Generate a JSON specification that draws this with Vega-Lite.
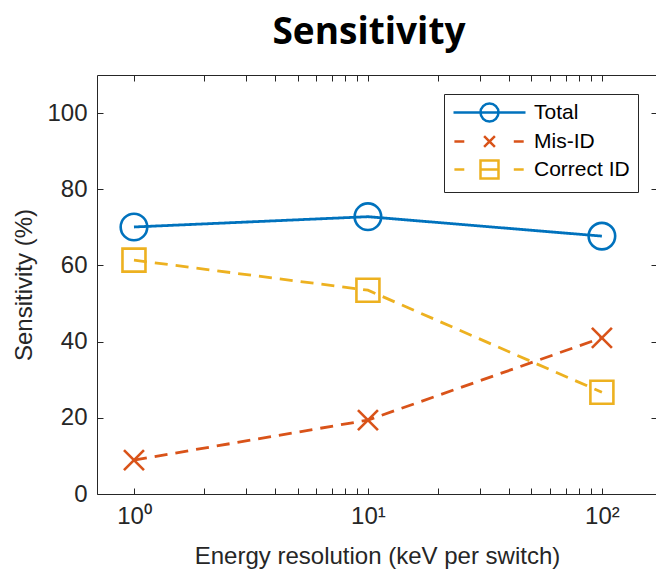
{
  "$schema": "https://vega.github.io/schema/vega-lite/v6.json",
  "autosize": {"type": "none"},
  "width": 560,
  "height": 419,
  "padding": {"left": 97, "top": 75, "right": 0, "bottom": 83},
  "background": "white",
  "title": {"text": "Sensitivity", "font": "Open Sans", "fontSize": 37, "fontWeight": "bold", "color": "black", "anchor": "middle", "offset": 23, "dx": -8},
  "config": {
    "view": {"stroke": null},
    "axis": {"grid": false, "domainColor": "#262626", "domainWidth": 1, "tickColor": "#262626", "tickWidth": 1, "tickSize": -6,
      "labelFont": "Liberation Sans", "labelFontSize": 24, "labelColor": "#262626",
      "titleFont": "Liberation Sans", "titleFontSize": 24, "titleFontWeight": "normal", "titleColor": "#262626"}
  },
  "data": {"values": [
    {"x": 1, "y": 70.1, "series": "Total"},
    {"x": 10, "y": 72.8, "series": "Total"},
    {"x": 100, "y": 67.7, "series": "Total"},
    {"x": 1, "y": 8.9, "series": "Mis-ID"},
    {"x": 10, "y": 19.4, "series": "Mis-ID"},
    {"x": 100, "y": 41.0, "series": "Mis-ID"},
    {"x": 1, "y": 61.4, "series": "Correct ID"},
    {"x": 10, "y": 53.5, "series": "Correct ID"},
    {"x": 100, "y": 26.7, "series": "Correct ID"}
  ]},
  "resolve": {"axis": {"x": "independent", "y": "independent"}},
  "layer": [
    {
      "mark": {"type": "line", "strokeWidth": 2.8},
      "encoding": {
        "x": {"field": "x", "type": "quantitative",
          "scale": {"type": "log", "domain": [0.695, 172], "nice": false, "zero": false},
          "axis": {"orient": "bottom", "title": "Energy resolution (keV per switch)", "titlePadding": 16, "labelPadding": 16,
            "values": [1,2,3,4,5,6,7,8,9,10,20,30,40,50,60,70,80,90,100],
            "labelExpr": "datum.value == 1 ? '10⁰' : datum.value == 10 ? '10¹' : datum.value == 100 ? '10²' : ''",
            "labelOverlap": false,
            "encode": {"ticks": {"update": {"y2": {"signal": "(datum.value == 1 || datum.value == 10 || datum.value == 100) ? -6 : -3.5"}}}}}},
        "y": {"field": "y", "type": "quantitative",
          "scale": {"domain": [0, 110], "nice": false},
          "axis": {"orient": "left", "title": "Sensitivity (%)", "titlePadding": 10, "labelPadding": 16,
            "values": [0, 20, 40, 60, 80, 100]}},
        "color": {"field": "series", "type": "nominal",
          "scale": {"domain": ["Total", "Mis-ID", "Correct ID"], "range": ["#0072BD", "#D95319", "#EDB120"]},
          "legend": {"orient": "top-right", "offset": 19, "title": null, "padding": 8,
            "strokeColor": "#262626", "fillColor": "white", "cornerRadius": 0,
            "labelFont": "Liberation Sans", "labelFontSize": 21, "labelColor": "black",
            "symbolSize": 324, "symbolStrokeWidth": 2.5, "symbolOffset": 27, "labelOffset": 34, "rowPadding": 3,
            "encode": {"symbols": {"update": {
              "shape": {"signal": "datum.value === 'Total' ? 'M-4,0L4,0M1,0A1,1,0,1,1,-1,0A1,1,0,1,1,1,0Z' : datum.value === 'Mis-ID' ? 'M-3.9,0L-2.8,0M2.7,0L3.8,0M-0.6,-0.6L0.6,0.6M-0.6,0.6L0.6,-0.6' : 'M-3.9,0L-2.8,0M2.7,0L3.8,0M-1,-1L1,-1L1,1L-1,1ZM-1,0L1,0'"},
              "fill": {"value": "transparent"},
              "strokeDash": {"value": []},
              "strokeWidth": {"value": 2.5}}}}}},
        "strokeDash": {"condition": {"test": "datum.series === 'Total'", "value": [1, 0]}, "value": [13, 8]}
      }
    },
    {
      "mark": {"type": "point", "filled": false, "strokeWidth": 2.6, "opacity": 1},
      "encoding": {
        "x": {"field": "x", "type": "quantitative",
          "scale": {"type": "log", "domain": [0.695, 172], "nice": false, "zero": false},
          "axis": {"orient": "top", "title": null, "labels": false,
            "values": [1,2,3,4,5,6,7,8,9,10,20,30,40,50,60,70,80,90,100],
            "encode": {"ticks": {"update": {"y2": {"signal": "(datum.value == 1 || datum.value == 10 || datum.value == 100) ? 6 : 3.5"}}}}}},
        "y": {"field": "y", "type": "quantitative",
          "scale": {"domain": [0, 110], "nice": false},
          "axis": {"orient": "right", "title": null, "labels": false,
            "values": [0, 20, 40, 60, 80, 100]}},
        "color": {"field": "series", "type": "nominal",
          "scale": {"domain": ["Total", "Mis-ID", "Correct ID"], "range": ["#0072BD", "#D95319", "#EDB120"]}},
        "shape": {"condition": [
            {"test": "datum.series === 'Total'", "value": "circle"},
            {"test": "datum.series === 'Mis-ID'", "value": "M-1,-1L1,1M-1,1L1,-1"}],
          "value": "square"},
        "size": {"condition": [
            {"test": "datum.series === 'Total'", "value": 707},
            {"test": "datum.series === 'Mis-ID'", "value": 400}],
          "value": 529}
      }
    }
  ]
}
